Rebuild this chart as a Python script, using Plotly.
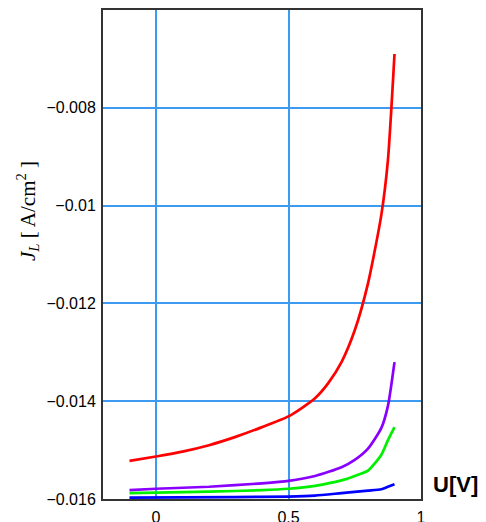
import plotly.graph_objects as go

# Data
u_red = [-0.1, 0.0, 0.1, 0.2, 0.3, 0.4, 0.5, 0.55, 0.6, 0.65, 0.7, 0.75, 0.8, 0.85, 0.875, 0.9]
j_red = [-0.01522, -0.01513, -0.01503, -0.0149, -0.01473, -0.01453, -0.01431, -0.01414,
         -0.01394, -0.01363, -0.0132, -0.01255, -0.01159, -0.0102, -0.00908, -0.0069]

u_purple = [-0.1, 0.0, 0.2, 0.4, 0.5, 0.6, 0.7, 0.75, 0.8, 0.85, 0.875, 0.9]
j_purple = [-0.01582, -0.01579, -0.01575, -0.01568, -0.01563, -0.01553, -0.01535, -0.0152,
            -0.01497, -0.01455, -0.0141, -0.0132]

u_green = [-0.1, 0.0, 0.2, 0.4, 0.5, 0.6, 0.7, 0.75, 0.8, 0.85, 0.875, 0.9]
j_green = [-0.01588, -0.01587, -0.01585, -0.01582, -0.01579, -0.01573, -0.01562, -0.01553,
           -0.01542, -0.0151, -0.0148, -0.01453]

u_blue = [-0.1, 0.3, 0.5, 0.6, 0.7, 0.8, 0.85, 0.875, 0.9]
j_blue = [-0.01597, -0.01596, -0.01595, -0.01593, -0.01588, -0.01583, -0.0158, -0.01575, -0.0157]

x_ticks = [0, 0.5, 1]
x_tick_text = ["0", "0.5", "1"]
y_ticks = [-0.016, -0.014, -0.012, -0.01, -0.008]
y_tick_text = ["\u22120.016", "\u22120.014", "\u22120.012", "\u22120.01", "\u22120.008"]

series = [
    (u_red, j_red, "#FF0000"),
    (u_purple, j_purple, "#8A00FF"),
    (u_green, j_green, "#00F000"),
    (u_blue, j_blue, "#0000FF"),
]

fig = go.Figure()
for u, j, c in series:
    fig.add_trace(go.Scatter(x=u, y=j, mode="lines", line=dict(color=c, width=2.7, shape="spline", smoothing=0.6),
                             showlegend=False, hoverinfo="skip"))

fig.update_layout(
    width=486, height=522,
    margin=dict(l=103, r=65, t=10, b=23, autoexpand=False),
    paper_bgcolor="white", plot_bgcolor="white",
    font=dict(family="Liberation Sans, Arial, sans-serif", size=16, color="black"),
    xaxis=dict(range=[-0.2, 1], tickvals=x_ticks, ticktext=x_tick_text, automargin=False,
               showgrid=True, gridcolor="#3C9BF0", gridwidth=1.8,
               showline=True, linecolor="#333333", linewidth=2, mirror=True,
               ticks="outside", ticklen=3, tickcolor="rgba(0,0,0,0)", zeroline=False),
    yaxis=dict(range=[-0.016, -0.006], tickvals=y_ticks, ticktext=y_tick_text, automargin=False,
               showgrid=True, gridcolor="#3C9BF0", gridwidth=1.8,
               showline=True, linecolor="#333333", linewidth=2, mirror=True,
               ticks="outside", ticklen=2, tickcolor="rgba(0,0,0,0)", zeroline=False),
    annotations=[
        dict(text="<i>J<sub>L</sub></i> [ A/cm<sup>2</sup> ]", xref="paper", yref="paper",
             x=(28 - 103) / 318, y=(499 - 211) / 489, xanchor="center", yanchor="middle",
             textangle=-90, showarrow=False,
             font=dict(family="Liberation Serif, Times New Roman, serif", size=21, color="black")),
        dict(text="<b>U[V]</b>", xref="paper", yref="paper",
             x=(455 - 103) / 318, y=(499 - 484) / 489, xanchor="center", yanchor="middle",
             showarrow=False,
             font=dict(family="Liberation Sans, Arial, sans-serif", size=22, color="black")),
    ],
)

fig.write_html("out.html")
